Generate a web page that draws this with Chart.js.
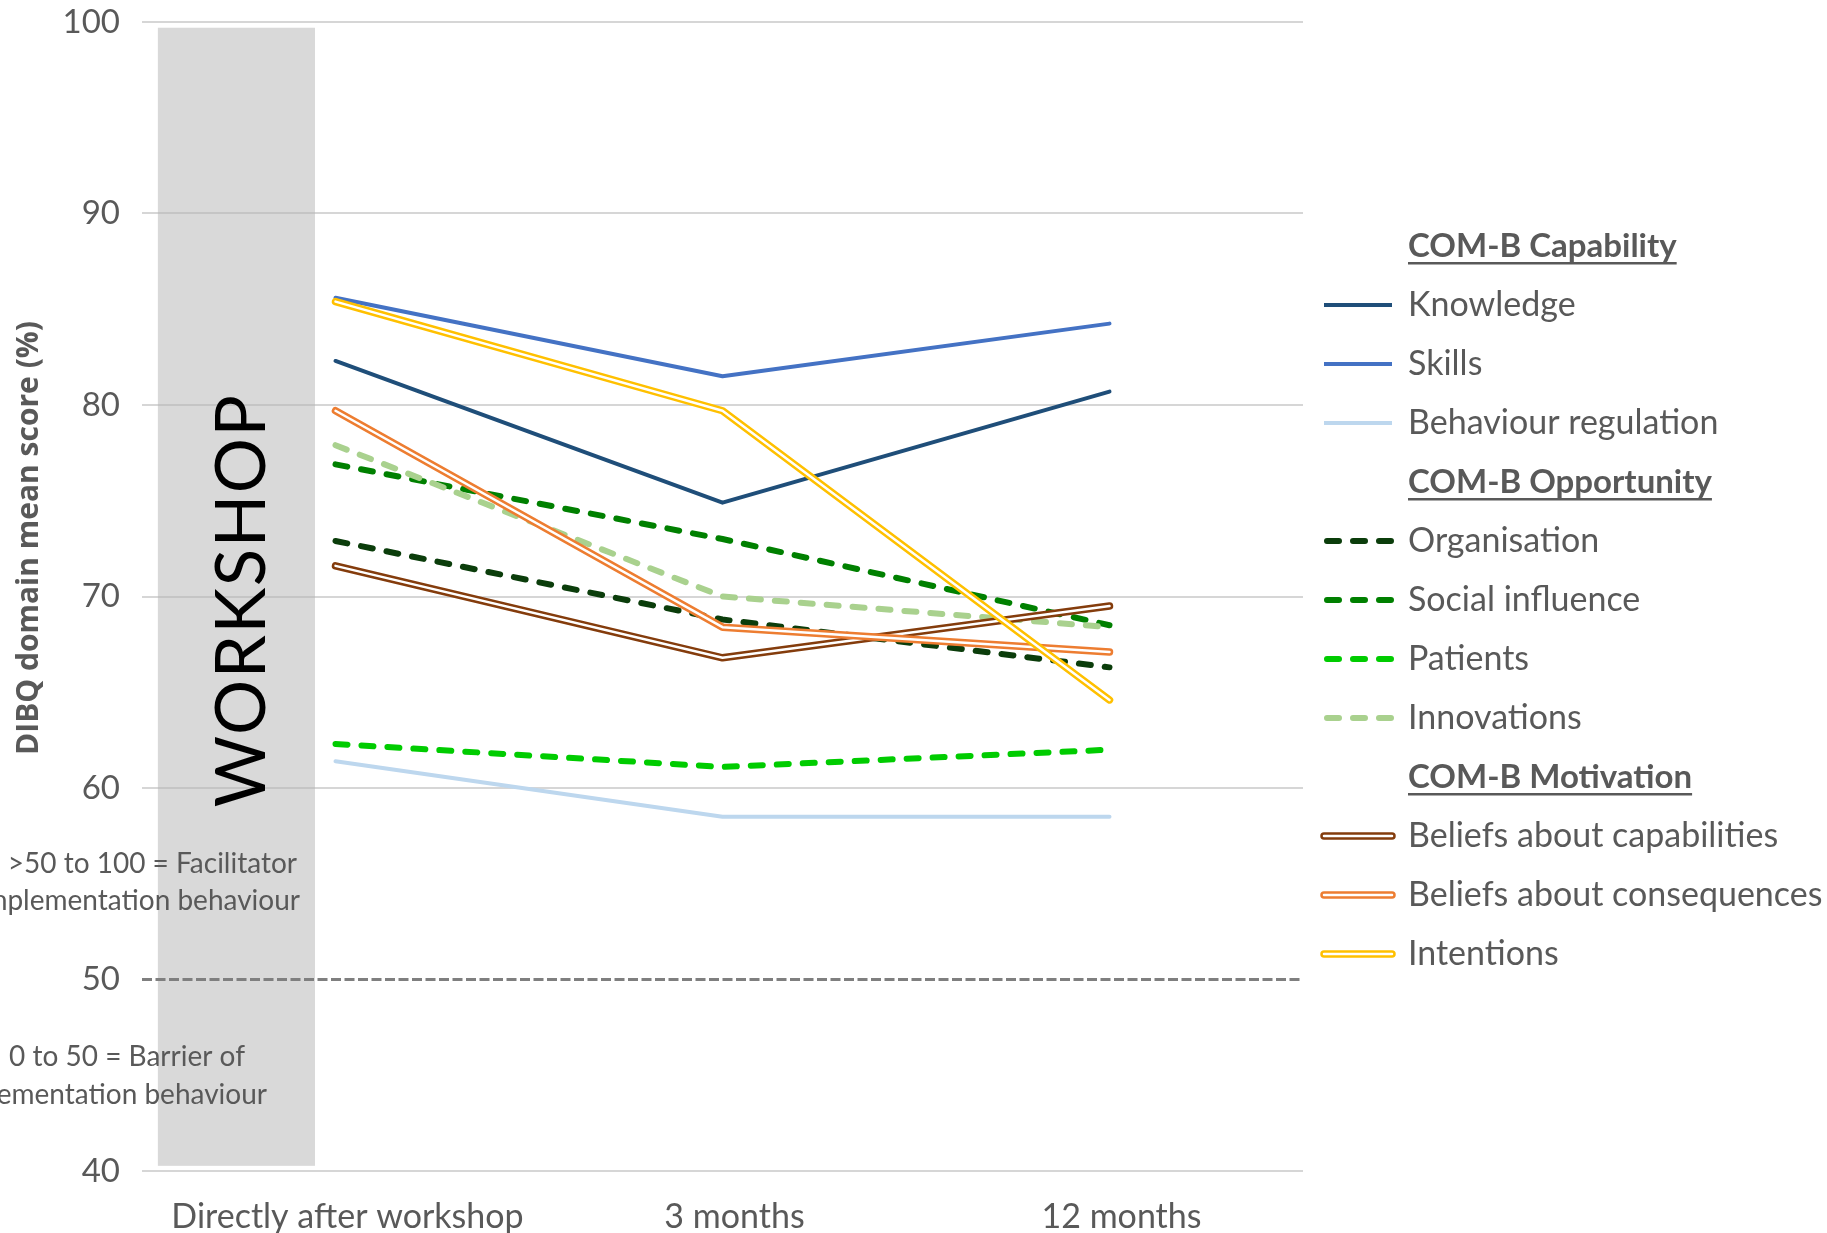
<!DOCTYPE html>
<html><head><meta charset="utf-8">
<script src="https://cdn.jsdelivr.net/npm/chart.js@4"></script>
<style>html,body{margin:0;padding:0;background:#fff;overflow:hidden}#wrap{width:1827px;height:1233px;position:relative}</style>
</head><body><div id="wrap"><canvas id="c" width="1827" height="1233"></canvas></div>
<script>
const categories = ['Directly after workshop', '3 months', '12 months'];
const knowledge = [82.3, 74.9, 80.7];
const skills = [85.6, 81.5, 84.25];
const behaviourRegulation = [61.4, 58.5, 58.5];
const organisation = [72.9, 68.8, 66.3];
const socialInfluence = [76.9, 73.0, 68.5];
const patients = [62.3, 61.1, 62.0];
const innovations = [77.9, 70.0, 68.4];
const beliefsCapabilities = [71.6, 66.8, 69.5];
const beliefsConsequences = [79.7, 68.4, 67.1];
const intentions = [85.4, 79.7, 64.6];
const yTickValues = [40, 50, 60, 70, 80, 90, 100];
const thresholdValue = 50;
const groupHeaders = ['COM-B Capability', 'COM-B Opportunity', 'COM-B Motivation'];
const seriesNames = ['Knowledge', 'Skills', 'Behaviour regulation', 'Organisation', 'Social influence', 'Patients', 'Innovations', 'Beliefs about capabilities', 'Beliefs about consequences', 'Intentions'];
const seriesValues = [knowledge, skills, behaviourRegulation, organisation, socialInfluence, patients, innovations, beliefsCapabilities, beliefsConsequences, intentions];
const seriesGroup = [0, 0, 0, 1, 1, 1, 1, 2, 2, 2];
const seriesColors = ['#1f4e79', '#4472c4', '#bdd7ee', '#0b3d0b', '#008000', '#00cc00', '#a9d18e', '#843c0c', '#ed7d31', '#ffc000'];
const seriesKinds = ['solid', 'solid', 'solid', 'dash', 'dash', 'dash', 'dash', 'double', 'double', 'double'];
const workshopLabel = 'WORKSHOP';
const yTitle = 'DIBQ domain mean score (%)';
const noteFacilitator = ['>50 to 100 = Facilitator', 'of implementation behaviour'];
const noteBarrier = ['0 to 50 = Barrier of', 'implementation behaviour'];

const FONT = 'Lato, "Open Sans", sans-serif';
const GREY_TEXT = '#595959';

const datasets = [];
seriesNames.forEach((name, i) => {
  const kind = seriesKinds[i];
  const base = {
    label: name,
    data: seriesValues[i],
    borderColor: seriesColors[i],
    backgroundColor: seriesColors[i],
    pointRadius: 0,
    pointHoverRadius: 0,
    tension: 0,
    fill: false,
    borderJoinStyle: 'round',
    borderCapStyle: 'round',
    order: 100 - 2 * i
  };
  if (kind === 'solid') base.borderWidth = 4;
  if (kind === 'dash') { base.borderWidth = 6; base.borderDash = [12, 14]; }
  if (kind === 'double') base.borderWidth = 7.5;
  datasets.push(base);
  if (kind === 'double') {
    datasets.push({
      label: name + ' (inner)',
      data: seriesValues[i],
      borderColor: '#ffffff',
      pointRadius: 0, pointHoverRadius: 0, tension: 0, fill: false,
      borderWidth: 2.5, borderJoinStyle: 'round', borderCapStyle: 'round',
      order: 100 - 2 * i - 1
    });
  }
});

const decor = {
  id: 'decor',
  beforeDraw(chart) {
    const { ctx, scales: { x, y } } = chart;
    const step = x.getPixelForValue(1) - x.getPixelForValue(0);
    const c0 = x.getPixelForValue(0);
    const bx0 = c0 - 0.459 * step, bx1 = c0 - 0.053 * step;
    const by0 = y.getPixelForValue(99.7), by1 = y.getPixelForValue(40.27);
    ctx.save();
    ctx.fillStyle = '#d9d9d9';
    ctx.fillRect(bx0, by0, bx1 - bx0, by1 - by0);
    ctx.restore();
  },
  beforeDatasetsDraw(chart) {
    const { ctx, chartArea, scales: { x, y } } = chart;
    const step = x.getPixelForValue(1) - x.getPixelForValue(0);
    const c0 = x.getPixelForValue(0);
    const ty = y.getPixelForValue(thresholdValue);
    ctx.save();
    ctx.strokeStyle = '#7f7f7f';
    ctx.lineWidth = 3;
    ctx.setLineDash([10, 3.5]);
    ctx.beginPath();
    ctx.moveTo(chartArea.left, ty);
    ctx.lineTo(chartArea.right, ty);
    ctx.stroke();
    ctx.restore();
    ctx.save();
    ctx.translate(c0 - 0.245 * step, y.getPixelForValue(69.8));
    ctx.rotate(-Math.PI / 2);
    ctx.font = '69px ' + FONT;
    ctx.letterSpacing = '1.5px';
    ctx.fillStyle = '#000000';
    ctx.textAlign = 'center';
    ctx.textBaseline = 'middle';
    ctx.fillText(workshopLabel, 0, 2);
    ctx.restore();
  },
  afterDraw(chart) {
    const { ctx } = chart;
    ctx.save();
    ctx.save();
    ctx.translate(29, 538);
    ctx.rotate(-Math.PI / 2);
    ctx.font = 'bold 30px "Open Sans", Lato, sans-serif';
    ctx.fillStyle = GREY_TEXT;
    ctx.textAlign = 'center';
    ctx.textBaseline = 'middle';
    ctx.fillText(yTitle, 0, 0);
    ctx.restore();
    ctx.font = '28px ' + FONT;
    ctx.fillStyle = GREY_TEXT;
    ctx.textAlign = 'right';
    ctx.textBaseline = 'middle';
    ctx.fillText(noteFacilitator[0], 297, 864);
    ctx.fillText(noteFacilitator[1], 300, 901);
    ctx.fillText(noteBarrier[0], 245, 1057);
    ctx.fillText(noteBarrier[1], 267, 1095);
    const lx0 = 1324, lx1 = 1392, tx = 1408;
    let row = 0;
    const rowY = r => 246 + r * 59;
    let lastGroup = -1;
    ctx.textAlign = 'left';
    for (let i = 0; i < seriesNames.length; i++) {
      if (seriesGroup[i] !== lastGroup) {
        lastGroup = seriesGroup[i];
        const yy = rowY(row++);
        ctx.font = 'bold 33px ' + FONT;
        ctx.fillStyle = GREY_TEXT;
        ctx.fillText(groupHeaders[lastGroup], tx, yy);
        const w = ctx.measureText(groupHeaders[lastGroup]).width;
        ctx.fillRect(tx, yy + 16, w, 2.5);
      }
      const yy = rowY(row++);
      const kind = seriesKinds[i];
      ctx.save();
      ctx.lineCap = 'round';
      ctx.strokeStyle = seriesColors[i];
      ctx.beginPath();
      if (kind === 'solid') {
        ctx.lineWidth = 4; ctx.lineCap = 'butt';
        ctx.moveTo(lx0, yy); ctx.lineTo(lx1, yy); ctx.stroke();
      } else if (kind === 'dash') {
        ctx.lineWidth = 6; ctx.setLineDash([12, 14]);
        ctx.moveTo(lx0 + 3, yy); ctx.lineTo(lx1, yy); ctx.stroke();
      } else {
        ctx.lineWidth = 7.5;
        ctx.moveTo(lx0, yy); ctx.lineTo(lx1, yy); ctx.stroke();
        ctx.strokeStyle = '#ffffff'; ctx.lineWidth = 2.5;
        ctx.beginPath(); ctx.moveTo(lx0, yy); ctx.lineTo(lx1, yy); ctx.stroke();
      }
      ctx.restore();
      ctx.font = '34px ' + FONT;
      ctx.fillStyle = GREY_TEXT;
      ctx.fillText(seriesNames[i], tx, yy);
    }
    ctx.restore();
  }
};

new Chart(document.getElementById('c'), {
  type: 'line',
  data: { labels: categories, datasets },
  options: {
    responsive: false,
    animation: false,
    events: [],
    layout: { padding: { top: 22, right: 524, left: 0, bottom: 0 } },
    plugins: { legend: { display: false }, tooltip: { enabled: false } },
    scales: {
      x: {
        offset: true,
        grid: { display: false },
        border: { display: false },
        ticks: { font: { family: FONT, size: 34 }, color: GREY_TEXT, padding: 18, labelOffset: 12, maxRotation: 0, autoSkip: false },
        afterFit(s) { s.height = 62; s.paddingLeft = 0; s.paddingRight = 0; }
      },
      y: {
        min: 40, max: 100,
        afterBuildTicks(s) { s.ticks = yTickValues.map(v => ({ value: v })); },
        grid: {
          color: ctx => (ctx.tick && ctx.tick.value === thresholdValue) ? 'rgba(0,0,0,0)' : 'rgba(180,180,180,0.55)',
          lineWidth: 2, drawTicks: false
        },
        border: { display: false },
        ticks: { font: { family: FONT, size: 33 }, color: GREY_TEXT, padding: 22 },
        afterFit(s) { s.width = 142; s.paddingTop = 0; s.paddingBottom = 0; }
      }
    }
  },
  plugins: [decor]
});
</script>
</body></html>
